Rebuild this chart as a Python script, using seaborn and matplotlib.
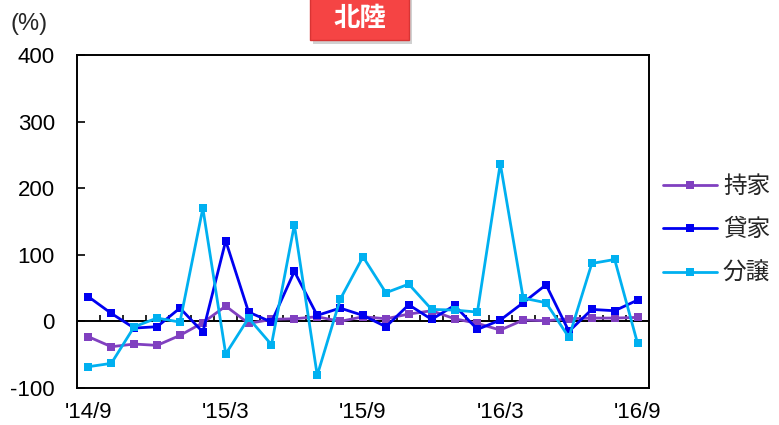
import matplotlib
matplotlib.use("Agg")
import matplotlib.pyplot as plt
import matplotlib.patches as mpatches
import seaborn as sns
import pandas as pd

months = ["'14/9", "'14/10", "'14/11", "'14/12", "'15/1", "'15/2", "'15/3",
          "'15/4", "'15/5", "'15/6", "'15/7", "'15/8", "'15/9", "'15/10",
          "'15/11", "'15/12", "'16/1", "'16/2", "'16/3", "'16/4", "'16/5",
          "'16/6", "'16/7", "'16/8", "'16/9"]
owned = [-23, -38, -34, -36, -21, -2, 23, -3, 3, 4, 7, 0, 7, 4, 11, 16, 4,
         -3, -13, 2, 1, 4, 5, 5, 6]
rental = [37, 12, -10, -8, 20, -16, 121, 14, -1, 75, 9, 20, 9, -8, 25, 3,
          24, -12, 2, 28, 55, -15, 18, 16, 32]
condo = [-68, -63, -8, 5, -1, 170, -49, 5, -35, 145, -81, 33, 97, 43, 56,
         18, 17, 14, 237, 35, 28, -24, 87, 93, -33]
series_names = ["持家", "貸家", "分譲"]
tick_labels = ["'14/9", "'15/3", "'15/9", "'16/3", "'16/9"]
y_ticks = [-100, 0, 100, 200, 300, 400]
region = "北陸"

colors = {"持家": "#8040C0", "貸家": "#0000F0", "分譲": "#00B0F0"}

sns.set_theme(style="white")
plt.rcParams["font.family"] = ["Liberation Sans", "Noto Sans CJK JP", "DejaVu Sans"]

frames = []
for name, vals in zip(series_names, [owned, rental, condo]):
    frames.append(pd.DataFrame({"pos": range(len(months)), "val": vals,
                                "series": name}))
df = pd.concat(frames, ignore_index=True)

fig = plt.figure(figsize=(7.79, 4.25), dpi=100)
ax = fig.add_axes([77 / 779, 37 / 425, 572 / 779, 333 / 425])

sns.lineplot(data=df, x="pos", y="val", hue="series", hue_order=series_names,
             palette=colors, marker="s", markersize=5.5, markeredgewidth=0,
             linewidth=2.0, dashes=False, ax=ax, legend=True, zorder=3)

ax.set_xlim(-0.5, len(months) - 0.5)
ax.set_ylim(-100, 400)
ax.set_yticks(y_ticks)
ax.set_yticklabels([str(v) for v in y_ticks])
ax.set_xticks([months.index(t) for t in tick_labels])
ax.set_xticklabels(tick_labels)
ax.set_xlabel("")
ax.set_ylabel("")
ax.tick_params(axis="y", direction="in", length=6, width=1.2, pad=16,
               labelsize=16, colors="black", left=True)
ax.tick_params(axis="x", length=0, pad=10, labelsize=16, colors="black")

# zero axis with category dividers
ax.axhline(0, color="black", linewidth=1.4, zorder=2)
ax.vlines([i + 0.5 for i in range(len(months) - 1)], 0, 9,
          color="black", linewidth=1.2, zorder=2)

for sp in ax.spines.values():
    sp.set_color("black")
    sp.set_linewidth(1.4)

handles, labels = ax.get_legend_handles_labels()
ax.legend(handles, labels, loc="center left", bbox_to_anchor=(1.024, 0.475),
          frameon=False, handlelength=2.3, handletextpad=0.25,
          labelspacing=0.87, borderaxespad=0, borderpad=0,
          prop={"family": ["Noto Sans CJK JP"], "size": 17})

fig.text(11 / 779, 1 - 24 / 425, "(%)", fontsize=17, ha="left", va="center",
         family=["Liberation Sans"])

# region badge
shadow = mpatches.Rectangle((313 / 779, 1 - 44 / 425), 99 / 779, 50 / 425,
                            transform=fig.transFigure, facecolor="#999999",
                            alpha=0.45, edgecolor="none")
badge = mpatches.Rectangle((310 / 779, 1 - 40 / 425), 99 / 779, 50 / 425,
                           transform=fig.transFigure, facecolor="#F54444",
                           edgecolor="#D83434", linewidth=1)
fig.patches.extend([shadow, badge])
fig.text(360 / 779, 1 - 19 / 425, region, fontsize=19, fontweight="bold",
         color="white", ha="center", va="center",
         family=["Noto Sans CJK JP"])

fig.savefig("out.png", dpi=100)
